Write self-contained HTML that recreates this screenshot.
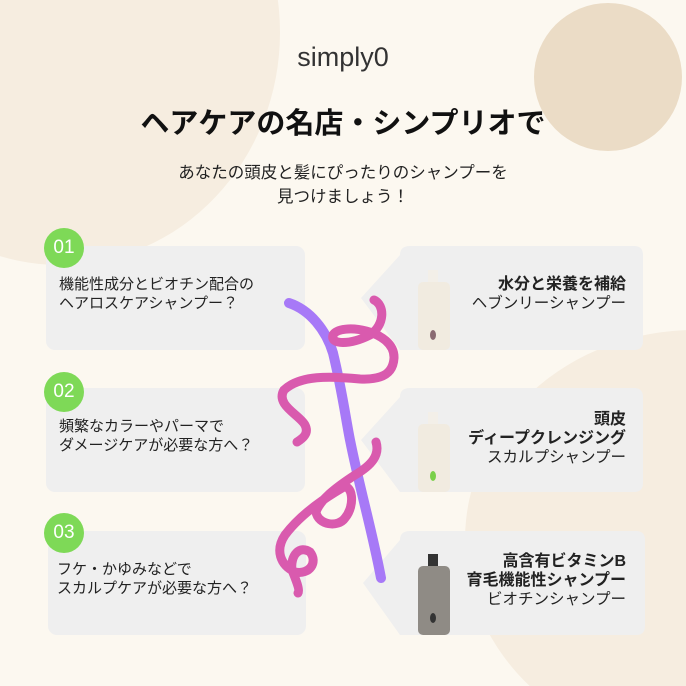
<!DOCTYPE html>
<html style="margin:0;width:686px;height:686px;overflow:hidden"><head><meta charset="utf-8"><style>
body{margin:0;width:686px;height:686px;overflow:hidden;background:#fcf8f0;font-family:"Liberation Sans","Noto Sans CJK JP",sans-serif;color:#222}
#w{position:relative;width:686px;height:686px;overflow:hidden}
.a{position:absolute}
.card{position:absolute;background:#efefef;border-radius:9px}
.num{position:absolute;width:36px;height:36px;border-radius:50%;background:#7ed957;color:#fff;font-size:19px;text-align:center;line-height:36px;box-shadow:0 0 0 2px #7ed957}
.lt{position:absolute;font-size:15px;line-height:19px;color:#222;white-space:nowrap}
.rt{position:absolute;right:60px;text-align:right;font-size:15.5px;line-height:19px;white-space:nowrap}
.rt b{font-weight:bold;font-size:16px}
</style></head><body><div id="w">
<div class="a" style="left:-160px;top:-200px;width:440px;height:465px;border-radius:50%;background:#f6ede0"></div>
<div class="a" style="left:534px;top:3px;width:148px;height:148px;border-radius:50%;background:#ebdcc6"></div>
<div class="a" style="left:465px;top:330px;width:460px;height:420px;border-radius:50%;background:#f6ede0"></div>
<div class="a" style="left:0;width:686px;top:42px;text-align:center;font-size:27px;color:#333">simply0</div>
<div class="a" style="left:0;width:686px;top:100px;text-align:center;font-size:29px;font-weight:bold;color:#111">ヘアケアの名店・シンプリオで</div>
<div class="a" style="left:0;width:686px;top:161px;text-align:center;font-size:16.5px;line-height:24px;color:#222">あなたの頭皮と髪にぴったりのシャンプーを<br>見つけましょう！</div>

<div class="card" style="left:46px;top:246px;width:259px;height:104px"></div>
<div class="card" style="left:46px;top:388px;width:259px;height:104px"></div>
<div class="card" style="left:48px;top:531px;width:258px;height:104px"></div>
<div class="num" style="left:46px;top:230px">01</div>
<div class="num" style="left:46px;top:374px">02</div>
<div class="num" style="left:46px;top:515px">03</div>
<div class="lt" style="left:59px;top:275px">機能性成分とビオチン配合の<br>ヘアロスケアシャンプー？</div>
<div class="lt" style="left:59px;top:417px">頻繁なカラーやパーマで<br>ダメージケアが必要な方へ？</div>
<div class="lt" style="left:57px;top:560px">フケ・かゆみなどで<br>スカルプケアが必要な方へ？</div>

<svg class="a" style="left:0;top:0" width="686" height="686">
<g fill="#efefef">
<path d="M400 255 Q400 246 410 246 L634 246 Q643 246 643 255 L643 341 Q643 350 634 350 L400 350 L361 298 Z"/>
<path d="M400 397 Q400 388 410 388 L634 388 Q643 388 643 397 L643 483 Q643 492 634 492 L400 492 L361 440 Z"/>
<path d="M400 540 Q400 531 410 531 L636 531 Q645 531 645 540 L645 626 Q645 635 636 635 L400 635 L363 583 Z"/>
</g>
<rect x="418" y="282" width="32" height="68" rx="5" fill="#f1ebe0"/><rect x="428" y="270" width="10" height="12" fill="#f3efe8"/>
<ellipse cx="433" cy="335" rx="3" ry="5" fill="#8a6a72"/>
<rect x="418" y="424" width="32" height="68" rx="5" fill="#f1ebe0"/><rect x="428" y="412" width="10" height="12" fill="#f3efe8"/>
<ellipse cx="433" cy="476" rx="3" ry="5" fill="#7ad04a"/>
<rect x="418" y="566" width="32" height="69" rx="5" fill="#8f8b85"/><rect x="428" y="554" width="10" height="12" fill="#333"/>
<ellipse cx="433" cy="618" rx="3" ry="5" fill="#333"/>
<path d="M289 303 C310 310 326 330 333 353 C342 390 346 420 350 440 C360 490 372 530 381 578" stroke="#a779f7" stroke-width="10" fill="none" stroke-linecap="round"/>
<g stroke="#d95aae" stroke-width="9" fill="none" stroke-linecap="round">
<path d="M374 300 C385 305 385 325 370 335 C350 345 330 345 333 335 C340 322 395 330 394 358 C393 375 380 380 360 379 C330 376 300 375 284 390 C275 405 300 415 305 425 C310 435 300 440 297 442"/>
<path d="M376 442 C380 455 372 465 355 475 C335 488 320 500 316 512 C318 525 338 528 345 518 C356 505 352 482 342 488 C325 498 300 515 285 535 C275 550 280 565 295 572 C310 575 318 562 310 552 C300 545 290 555 292 570 C296 580 300 590 298 593"/>
</g>
</svg>
<div class="rt" style="top:275px"><b>水分と栄養を補給</b><br>ヘブンリーシャンプー</div>
<div class="rt" style="top:410px"><b>頭皮<br>ディープクレンジング</b><br>スカルプシャンプー</div>
<div class="rt" style="top:552px"><b>高含有ビタミンB<br>育毛機能性シャンプー</b><br>ビオチンシャンプー</div>
</div></body></html>
